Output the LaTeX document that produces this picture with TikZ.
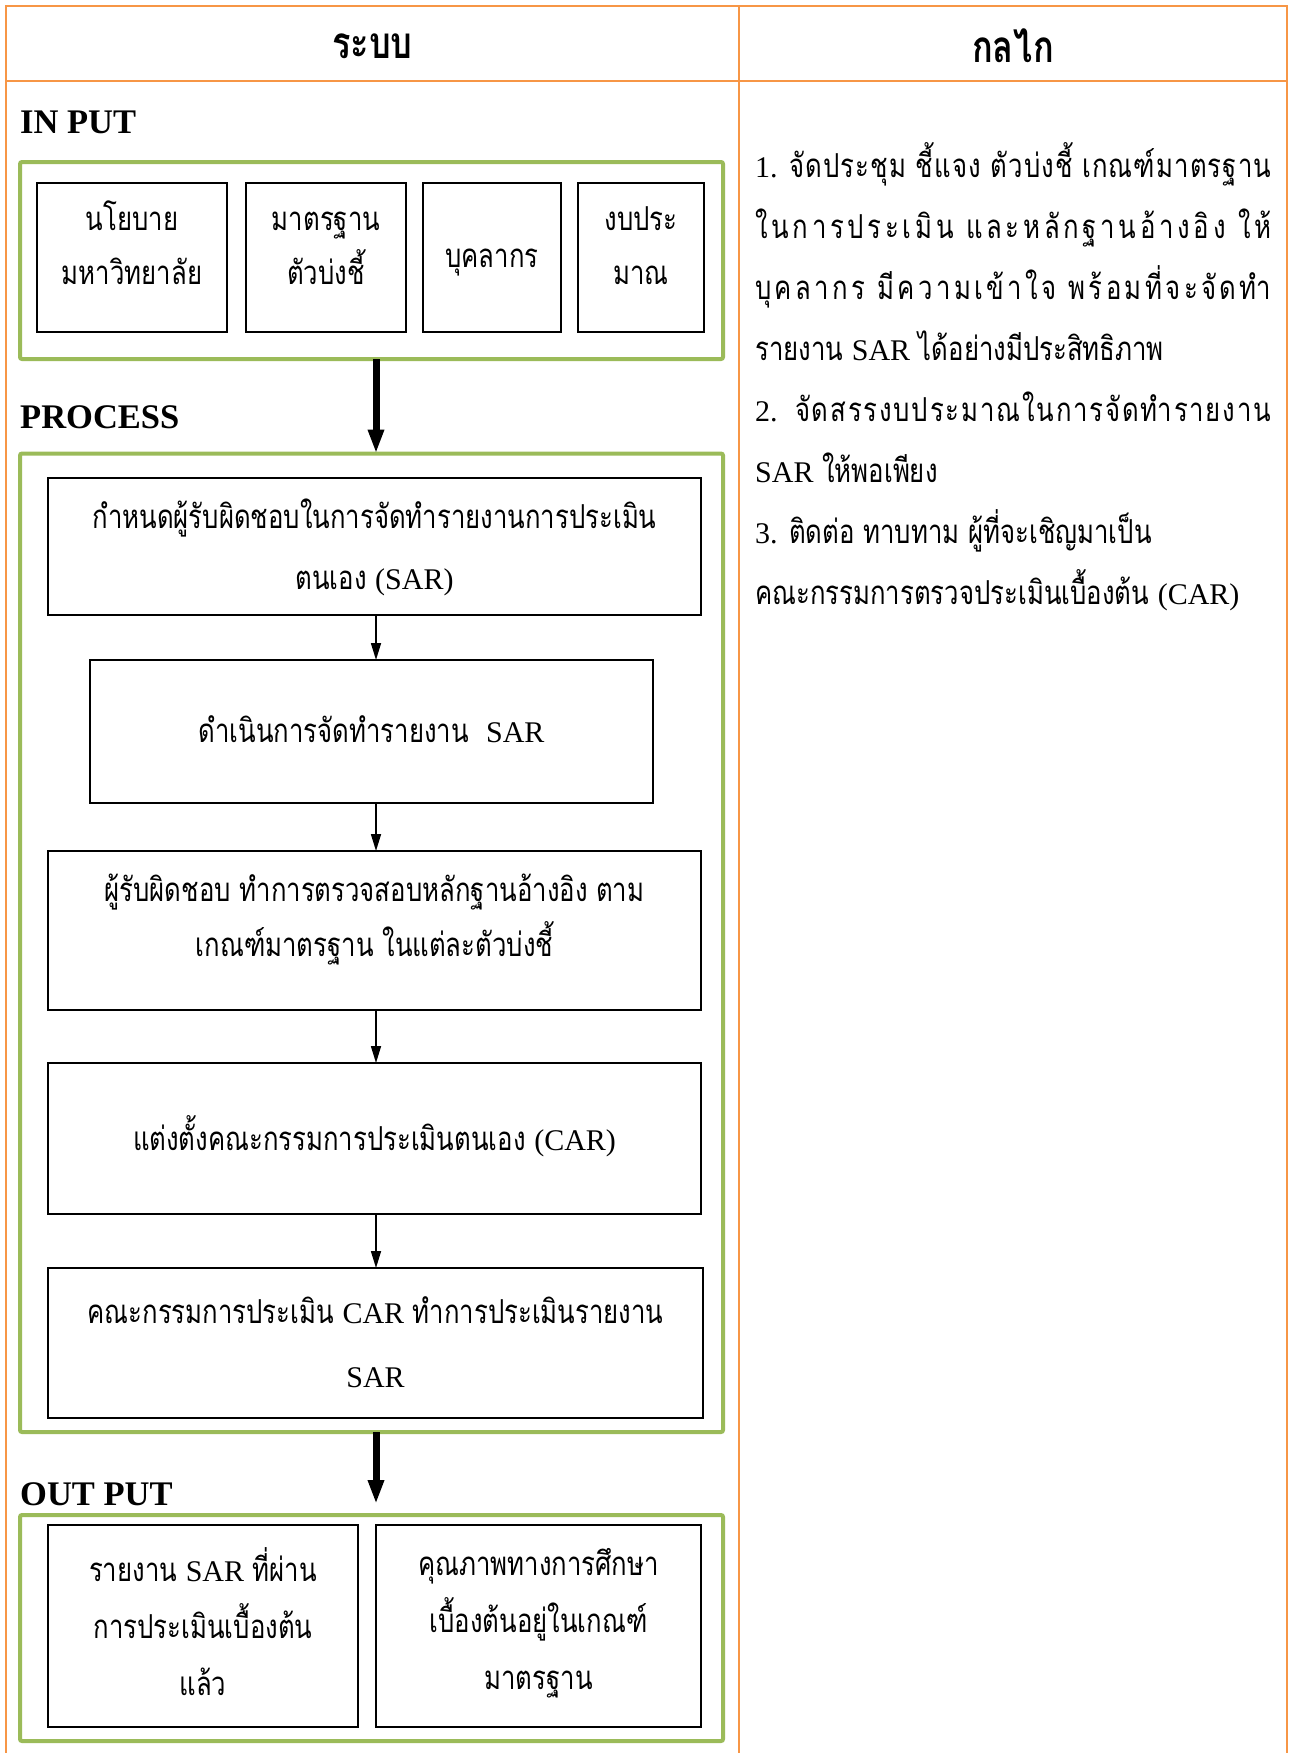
\documentclass[tikz,border=0pt]{standalone}
\usepackage{fontspec}
\setmainfont{Liberation Serif}
\newfontfamily\thai[Script=Thai,Scale=1.1,FakeStretch=0.78]{Loma}
\usetikzlibrary{arrows.meta}
\definecolor{tborange}{HTML}{F79646}
\definecolor{grn}{HTML}{9BBB59}
\newcommand\lat[1]{{\rmfamily #1}}
\newcommand\tp[1]{\rule{0pt}{#1pt}}
\newcommand\bt[1]{\rule[-#1pt]{0pt}{#1pt}}
\newcommand\one[2]{\rule[-#2pt]{0pt}{\dimexpr #1pt + #2pt\relax}}
\newcommand\dst{\hskip 0pt plus 1fil\relax}
\begin{document}
\begin{tikzpicture}[x=1pt,y=-1pt,
  tline/.style={draw=tborange,line width=2pt},
  gbox/.style={draw=grn,line width=4pt,rounded corners=2pt,inner sep=0pt,outer sep=0pt},
  bbox/.style={draw=black,line width=1.8pt,inner sep=0pt,outer sep=0pt,align=center,font=\fontsize{30}{56}\selectfont\thai},
  thinarr/.style={line width=1.6pt,-{Triangle[width=10pt,length=17pt]}},
  thickarr/.style={line width=7pt,-{Triangle[width=15pt,length=24pt]}},
  lab/.style={anchor=base west,inner sep=0pt,font=\fontsize{34.5}{40}\selectfont\bfseries},
  rline/.style={anchor=base west,inner sep=0pt,font=\fontsize{30}{40}\selectfont\thai},
  head/.style={inner sep=0pt,font=\fontsize{40}{44}\selectfont\thai\bfseries},
]
\useasboundingbox (0,0) rectangle (1296,1753);
% table
\draw[tline] (6,1760) -- (6,6) -- (1287,6) -- (1287,1760);
\draw[tline] (6,80.7) -- (1287,80.7);
\draw[tline] (739,6) -- (739,1760);
\node[head] (h1) at (372.5,46) {ระบบ};
\node[head] (h2) at (1013,46) {กลไก};
\coordinate (ax) at (376,0);
% labels
\node[lab] (lin) at (20,133) {IN PUT};
\node[lab] (lproc) at (20,428) {PROCESS};
\node[lab] (lout) at (20,1505) {OUT PUT};
% green containers
\node[gbox,minimum width=703pt,minimum height=197pt] (gi) at (371.5,260.5) {};
\node[gbox,minimum width=703pt,minimum height=978.5pt] (gp) at (371.5,942.75) {};
\node[gbox,minimum width=703pt,minimum height=226pt] (go) at (371.5,1628) {};
% input boxes
\node[bbox,font=\fontsize{30}{54}\selectfont\thai,minimum width=190pt,minimum height=149pt] (ib1) at (132,257.5) {\tp{40}นโยบาย\\มหาวิทยาลัย\bt{40}};
\node[bbox,font=\fontsize{30}{54}\selectfont\thai,minimum width=160pt,minimum height=149pt] (ib2) at (326,257.5) {\tp{40}มาตรฐาน\\ตัวบ่งชี้\bt{40}};
\node[bbox,font=\fontsize{30}{54}\selectfont\thai,minimum width=138pt,minimum height=149pt] (ib3) at (492,257.5) {\one{49.5}{30.5}บุคลากร};
\node[bbox,font=\fontsize{30}{54}\selectfont\thai,minimum width=126pt,minimum height=149pt] (ib4) at (641,257.5) {\tp{40}งบประ\\มาณ\bt{40}};
% process boxes
\node[bbox,font=\fontsize{30}{61}\selectfont\thai,minimum width=653pt,minimum height=137pt] (p1) at (374.5,546.5) {\tp{47.5}กำหนดผู้รับผิดชอบในการจัดทำรายงานการประเมิน\\ตนเอง \lat{(SAR)}\bt{22.5}};
\node[bbox,minimum width=563pt,minimum height=143pt] (p2) at (371.5,731.5) {\one{51}{29}ดำเนินการจัดทำรายงาน\ \ \lat{SAR}};
\node[bbox,font=\fontsize{30}{55}\selectfont\thai,minimum width=653pt,minimum height=159pt] (p3) at (374.5,930.5) {\tp{38.5}ผู้รับผิดชอบ ทำการตรวจสอบหลักฐานอ้างอิง ตาม\\เกณฑ์มาตรฐาน ในแต่ละตัวบ่งชี้\bt{41.5}};
\node[bbox,minimum width=653pt,minimum height=151pt] (p4) at (374.5,1138.5) {\one{52}{28}แต่งตั้งคณะกรรมการประเมินตนเอง \lat{(CAR)}};
\node[bbox,font=\fontsize{30}{64}\selectfont\thai,minimum width=655pt,minimum height=150pt] (p5) at (375.5,1343) {\tp{52.5}คณะกรรมการประเมิน \lat{CAR} ทำการประเมินรายงาน\\\lat{SAR}\bt{27.5}};
% output boxes
\node[bbox,font=\fontsize{30}{57}\selectfont\thai,minimum width=310pt,minimum height=202pt] (o1) at (203,1626) {\tp{52.5}รายงาน \lat{SAR} ที่ผ่าน\\การประเมินเบื้องต้น\\แล้ว\bt{27.5}};
\node[bbox,font=\fontsize{30}{57}\selectfont\thai,minimum width=325pt,minimum height=202pt] (o2) at (538.5,1626) {\tp{46.5}คุณภาพทางการศึกษา\\เบื้องต้นอยู่ในเกณฑ์\\มาตรฐาน\bt{33.5}};
% arrows
\coordinate (outtip) at (376,1504);
\draw[thickarr] (gi.south -| ax) -- (gp.north -| ax);
\draw[thickarr] (gp.south -| ax) -- (outtip);
\draw[thinarr] (p1.south -| ax) -- (p2.north -| ax);
\draw[thinarr] (p2.south -| ax) -- (p3.north -| ax);
\draw[thinarr] (p3.south -| ax) -- (p4.north -| ax);
\draw[thinarr] (p4.south -| ax) -- (p5.north -| ax);
% right column
\node[rline] (r1) at (755,177) {\makebox[516pt][s]{\lat{1.} จั\dst ด\dst ป\dst ร\dst ะ\dst ชุ\dst ม~\dst ชี้\dst แ\dst จ\dst ง~\dst ตั\dst ว\dst บ่\dst ง\dst ชี้~\dst เ\dst ก\dst ณ\dst ฑ์\dst ม\dst า\dst ต\dst ร\dst ฐ\dst า\dst น}};
\node[rline] (r2) at (755,238.1) {\makebox[516pt][s]{ใ\dst น\dst ก\dst า\dst ร\dst ป\dst ร\dst ะ\dst เ\dst มิ\dst น~\dst แ\dst ล\dst ะ\dst ห\dst ลั\dst ก\dst ฐ\dst า\dst น\dst อ้\dst า\dst ง\dst อิ\dst ง~\dst ใ\dst ห้}};
\node[rline] (r3) at (755,299.2) {\makebox[516pt][s]{บุ\dst ค\dst ล\dst า\dst ก\dst ร~\dst มี\dst ค\dst ว\dst า\dst ม\dst เ\dst ข้\dst า\dst ใ\dst จ~\dst พ\dst ร้\dst อ\dst ม\dst ที่\dst จ\dst ะ\dst จั\dst ด\dst ทำ}};
\node[rline] (r4) at (755,360.3) {รายงาน \lat{SAR} ได้อย่างมีประสิทธิภาพ};
\node[rline] (r5) at (755,421.4) {\makebox[516pt][s]{\lat{2.}\ \ จั\dst ด\dst ส\dst ร\dst ร\dst ง\dst บ\dst ป\dst ร\dst ะ\dst ม\dst า\dst ณ\dst ใ\dst น\dst ก\dst า\dst ร\dst จั\dst ด\dst ทำ\dst ร\dst า\dst ย\dst ง\dst า\dst น}};
\node[rline] (r6) at (755,482.5) {\lat{SAR} ให้พอเพียง};
\node[rline] (r7) at (755,543.6) {\lat{3.} ติดต่อ ทาบทาม ผู้ที่จะเชิญมาเป็น};
\node[rline] (r8) at (755,604.7) {คณะกรรมการตรวจประเมินเบื้องต้น \lat{(CAR)}};
\end{tikzpicture}
\end{document}
